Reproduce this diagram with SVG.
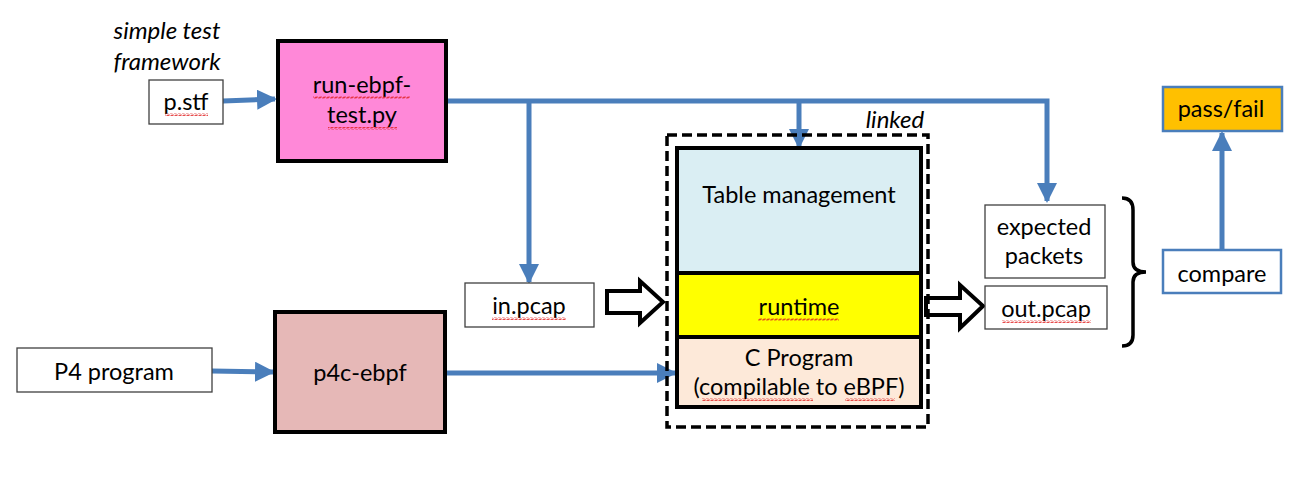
<svg xmlns="http://www.w3.org/2000/svg" width="1305" height="497" viewBox="0 0 1305 497">
<style>
text{font-family:Lato,"Liberation Sans",sans-serif;font-size:23.5px;fill:#000;text-anchor:middle}
.it{font-style:italic;font-size:24px}
.box{fill:#fff;stroke:#404040;stroke-width:1.3}
.thick{stroke:#000;stroke-width:4}
.blue{fill:none;stroke:#4A7EBB;stroke-width:5}
.bbox{stroke:#4A7EBB;stroke-width:2.5}
.hollow{fill:#fff;stroke:#000;stroke-width:4;stroke-linejoin:miter}
.sq{fill:url(#squig)}
</style>
<defs>
<marker id="ah" viewBox="0 0 10 10" refX="9" refY="5" markerWidth="4" markerHeight="4" orient="auto" markerUnits="strokeWidth">
<path d="M0,0L10,5L0,10z" fill="#4A7EBB"/>
</marker>
<pattern id="squig" width="4" height="3" patternUnits="userSpaceOnUse">
<path d="M0,2.5L1,0.5L3,2.5L4,0.5" fill="none" stroke="#e02020" stroke-width="0.8"/>
</pattern>
</defs>

<g id="connectors">
<path class="blue" d="M223,101L275,99" marker-end="url(#ah)"/>
<path class="blue" d="M446,101H1047V201" marker-end="url(#ah)"/>
<path class="blue" d="M529,101V282" marker-end="url(#ah)"/>
<path class="blue" d="M799,101V147" marker-end="url(#ah)"/>
<path class="blue" d="M212,371L273,372" marker-end="url(#ah)"/>
<path class="blue" d="M445,373L675,373" marker-end="url(#ah)"/>
<path class="blue" d="M1222,250V133" marker-end="url(#ah)"/>
<path class="hollow" d="M607,291H640V281L663,302L640,323V313H607Z"/>
<path class="hollow" d="M926,298H960V285L983,306L960,328V315H926Z"/>
<path d="M1122,198Q1133,198 1133,210V262Q1133,272 1146,272Q1133,272 1133,282V335Q1133,346 1122,346" fill="none" stroke="#000" stroke-width="3.5"/>
</g>

<g id="label-simple-test">
<text class="it" x="167" y="39">simple test</text>
<text class="it" x="167" y="70">framework</text>
</g>

<g id="node-pstf">
<rect class="box" x="149" y="80" width="74" height="44"/>
<text x="186" y="110">p.stf</text>
<rect class="sq" x="165" y="113" width="43" height="3"/>
</g>

<g id="node-run-ebpf-test">
<rect class="thick" x="278" y="41" width="168" height="120" fill="#FF88D8"/>
<text x="362" y="93">run-ebpf-</text>
<text x="362" y="123">test.py</text>
<rect class="sq" x="313" y="96" width="97" height="3"/>
<rect class="sq" x="328" y="127" width="69" height="3"/>
</g>

<g id="node-p4-program">
<rect class="box" x="17" y="348" width="195" height="44"/>
<text x="114" y="380">P4 program</text>
</g>

<g id="node-p4c-ebpf">
<rect class="thick" x="275" y="312" width="170" height="120" fill="#E6B8B7"/>
<text x="360" y="381">p4c-ebpf</text>
</g>

<g id="node-in-pcap">
<rect class="box" x="465" y="283" width="129" height="44"/>
<text x="529" y="314">in.pcap</text>
<rect class="sq" x="492" y="317" width="74" height="3"/>
</g>

<g id="node-linked">
<rect x="667" y="135" width="261" height="292" fill="none" stroke="#000" stroke-width="3.5" stroke-dasharray="10,5"/>
<text class="it" x="895" y="128">linked</text>
</g>

<g id="node-table-management">
<rect class="thick" x="677" y="148" width="244" height="125" fill="#DAEEF3"/>
<text x="799" y="203">Table management</text>
</g>

<g id="node-runtime">
<rect class="thick" x="677" y="273" width="244" height="64" fill="#FFFF00"/>
<text x="799" y="315">runtime</text>
<rect class="sq" x="758" y="318" width="81" height="3"/>
</g>

<g id="node-c-program">
<rect class="thick" x="677" y="337" width="244" height="70" fill="#FDE9D9"/>
<text x="799" y="366">C Program</text>
<text x="799" y="395">(compilable to eBPF)</text>
<rect class="sq" x="702" y="398" width="111" height="3"/>
<rect class="sq" x="845" y="398" width="50" height="3"/>
</g>

<g id="node-expected-packets">
<rect class="box" x="985" y="205" width="120" height="73"/>
<text x="1044" y="235">expected</text>
<text x="1044" y="264">packets</text>
</g>

<g id="node-out-pcap">
<rect class="box" x="985" y="286" width="122" height="43"/>
<text x="1046" y="317">out.pcap</text>
<rect class="sq" x="1002" y="320" width="89" height="3"/>
</g>

<g id="node-compare">
<rect class="bbox" x="1163" y="250" width="118" height="43" fill="#fff"/>
<text x="1222" y="282">compare</text>
</g>

<g id="node-pass-fail">
<rect class="bbox" x="1163" y="87" width="119" height="44" fill="#FFC000"/>
<text x="1221" y="117">pass/fail</text>
</g>
</svg>
